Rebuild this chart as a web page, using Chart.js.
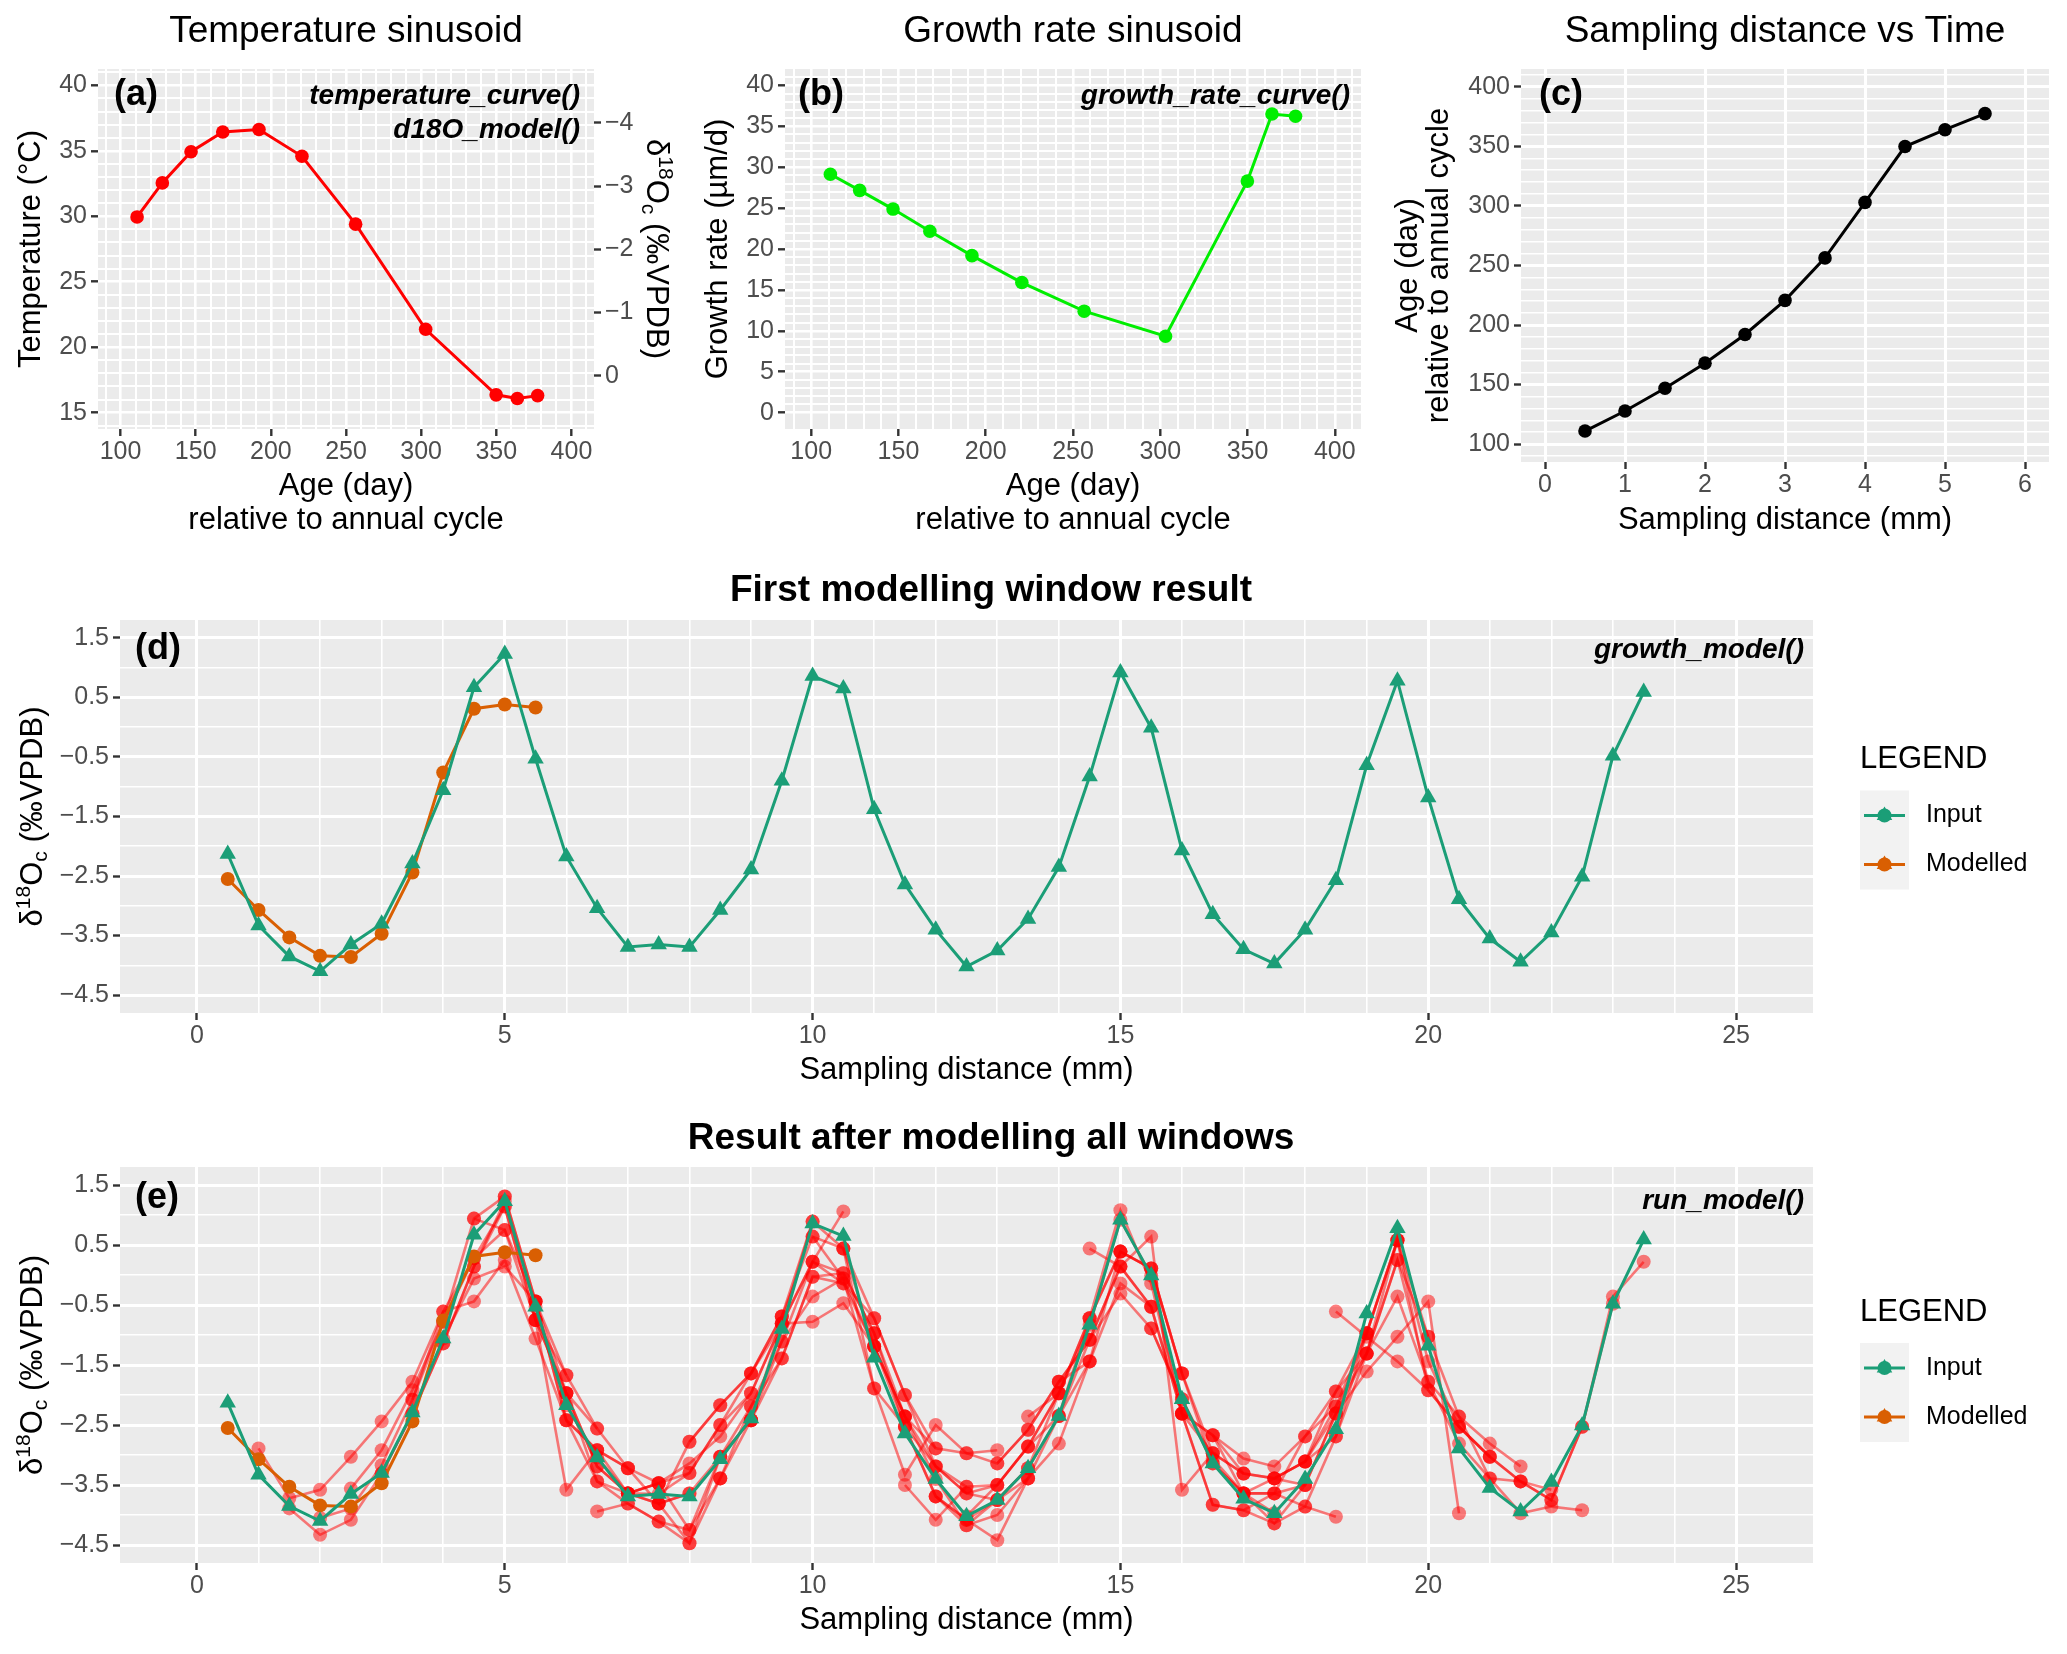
<!DOCTYPE html>
<html>
<head>
<meta charset="utf-8">
<title>Growth model panels</title>
<script src="https://cdn.jsdelivr.net/npm/chart.js@4.4.1/dist/chart.umd.min.js"></script>
<style>
  html, body { margin: 0; padding: 0; background: #ffffff; }
  #page { position: relative; width: 2067px; height: 1654px; overflow: hidden; background: #ffffff; }
  #page canvas { position: absolute; left: 0; top: 0; }
</style>
</head>
<body>
<div id="page">
  <canvas id="chartA" width="2067" height="1654"></canvas>
  <canvas id="chartB" width="2067" height="1654"></canvas>
  <canvas id="chartC" width="2067" height="1654"></canvas>
  <canvas id="chartD" width="2067" height="1654"></canvas>
  <canvas id="chartE" width="2067" height="1654"></canvas>
</div>
<script>
// ---- data ----
// panels (a)-(c): one point per sample of the first window
const sampleDistance = [0.5, 1.0, 1.5, 2.0, 2.5, 3.0, 3.5, 4.0, 4.5, 5.0, 5.5];
const ageDays = [111.0, 127.8, 146.9, 168.0, 192.1, 220.7, 256.4, 303.0, 349.9, 364.0, 377.5];
const temperatureC = [29.95, 32.55, 34.93, 36.44, 36.63, 34.58, 29.40, 21.37, 16.36, 16.08, 16.30];
const growthRate = [29.13, 27.16, 24.88, 22.17, 19.19, 15.90, 12.40, 9.33, 28.30, 36.50, 36.23];

// panels (d)-(e): input record and modelled result
const inputDistance = [0.5, 1.0, 1.5, 2.0, 2.5, 3.0, 3.5, 4.0, 4.5, 5.0,
  5.5, 6.0, 6.5, 7.0, 7.5, 8.0, 8.5, 9.0, 9.5, 10.0,
  10.5, 11.0, 11.5, 12.0, 12.5, 13.0, 13.5, 14.0, 14.5, 15.0,
  15.5, 16.0, 16.5, 17.0, 17.5, 18.0, 18.5, 19.0, 19.5, 20.0,
  20.5, 21.0, 21.5, 22.0, 22.5, 23.0, 23.5];
const inputD18O = [-2.13, -3.33, -3.85, -4.10, -3.65, -3.30, -2.29, -1.06, 0.67, 1.23,
  -0.53, -2.17, -3.04, -3.69, -3.65, -3.69, -3.07, -2.39, -0.90, 0.86,
  0.65, -1.38, -2.64, -3.40, -4.02, -3.75, -3.22, -2.35, -0.83, 0.92,
  -0.01, -2.07, -3.14, -3.73, -3.97, -3.40, -2.57, -0.64, 0.78, -1.18,
  -2.89, -3.55, -3.94, -3.45, -2.51, -0.48, 0.59];
const modelledD18O = [-2.55, -3.07, -3.53, -3.84, -3.86, -3.47, -2.44, -0.76, 0.31, 0.38, 0.33];

// panel (e): every later modelling window (11 samples each, starting at windowStarts)
const windowStarts = [1.0, 1.5, 2.0, 2.5, 3.0, 3.5, 4.0, 4.5, 5.0, 5.5, 6.0, 6.5,
  7.0, 7.5, 8.0, 8.5, 9.0, 9.5, 10.0, 10.5, 11.0, 11.5, 12.0, 12.5,
  13.0, 13.5, 14.0, 14.5, 15.0, 15.5, 16.0, 16.5, 17.0, 17.5, 18.0, 18.5];
const windowD18O = [
  [-2.89, -3.72, -3.58, -3.03, -2.44, -1.78, -0.61, 0.28, 0.75, -0.44, -1.67],
  [-3.89, -4.33, -4.08, -3.31, -2.31, -1.14, 0.14, 1.14, -0.75, -1.97, -2.56],
  [-4.05, -3.89, -3.17, -2.08, -0.78, 0.94, 1.31, -0.44, -2.42, -2.92, -3.22],
  [-3.56, -2.92, -1.92, -0.78, 0.28, 1.14, -0.75, -1.97, -3.19, -3.64, -3.47],
  [-3.31, -2.31, -1.14, 0.14, 1.23, -0.53, -2.17, -3.04, -3.64, -3.81, -3.64],
  [-2.08, -0.61, -0.44, 0.25, -1.06, -2.42, -3.44, -3.81, -4.11, -4.47, -3.39],
  [-1.06, -0.06, 0.14, -0.44, -1.97, -3.19, -3.64, -3.47, -4.25, -3.03, -2.42],
  [0.94, 0.75, -0.75, -1.67, -2.56, -3.22, -3.81, -2.78, -2.17, -1.64, -0.69],
  [1.31, -0.44, -2.42, -2.92, -3.64, -3.47, -3.30, -2.50, -1.97, -0.81, 0.89],
  [-0.75, -3.58, -2.92, -3.22, -3.47, -3.14, -2.69, -1.97, -0.81, 0.22, 1.06],
  [-1.97, -3.44, -3.64, -3.81, -3.64, -3.03, -2.19, -1.11, 0.22, 0.03, -0.97],
  [-3.94, -3.81, -4.11, -4.25, -3.39, -2.42, -1.39, -0.03, -0.14, -1.19, -2.36],
  [-3.64, -3.65, -3.30, -2.50, -1.64, -0.69, 0.64, 0.44, -0.72, -2.00, -2.89],
  [-3.81, -4.47, -3.03, -2.42, -1.11, -0.36, -0.06, -1.89, -2.53, -3.19, -3.53],
  [-2.78, -2.17, -1.64, -0.81, -0.78, -0.47, -1.19, -2.36, -2.89, -2.97, -2.92],
  [-3.39, -2.19, -1.39, -0.03, 0.03, -0.97, -2.53, -3.69, -4.08, -3.75, -3.39],
  [-2.42, -0.81, 0.22, -0.14, -0.72, -2.00, -3.19, -3.64, -3.50, -2.86, -1.97],
  [-0.69, 0.89, 0.44, -1.19, -2.36, -3.40, -4.17, -4.00, -3.39, -2.81, -1.44],
  [0.64, -0.06, -1.19, -2.53, -3.69, -4.08, -4.42, -3.39, -2.35, -0.72, 0.39],
  [0.44, -1.89, -3.33, -2.50, -2.97, -3.14, -2.58, -1.78, -1.08, 0.14, -0.53],
  [-0.97, -2.36, -3.19, -3.64, -3.75, -3.22, -1.97, -0.72, 0.39, 0.11, -1.64],
  [-3.50, -4.08, -3.53, -3.50, -2.86, -2.35, -1.44, -0.14, -0.53, -2.31, -2.97],
  [-3.69, -4.17, -3.75, -3.22, -2.35, -1.08, 0.14, 0.64, -3.58, -2.97, -3.31],
  [-4.02, -3.50, -2.86, -1.97, -0.72, 1.08, -0.14, -2.31, -2.67, -3.64, -3.97],
  [-3.14, -2.58, -1.78, -1.44, 0.39, 0.11, -1.64, -3.14, -3.64, -3.64, -3.50],
  [-2.36, -1.97, -0.83, 0.92, -0.01, -2.31, -3.83, -3.92, -4.14, -3.86, -4.03],
  [-1.78, -1.08, -0.31, -0.89, -2.07, -3.06, -3.64, -3.39, -3.11, -2.31, -0.97],
  [0.44, 0.14, -0.53, -2.31, -2.67, -3.06, -3.19, -2.69, -1.94, -0.97, 0.58],
  [0.39, 0.11, -1.64, -2.97, -3.31, -3.39, -3.11, -2.19, -1.31, 0.25, -1.03],
  [-0.89, -2.07, -3.14, -3.64, -4.14, -3.50, -2.31, -1.61, -1.03, -0.44, -3.97],
  [-2.31, -3.83, -3.92, -3.64, -3.86, -2.69, -1.31, 0.58, -1.44, -2.53, -3.03],
  [-2.67, -3.31, -3.39, -3.11, -1.94, -1.31, -0.36, -1.78, -2.36, -2.81, -3.19],
  [-3.64, -3.64, -2.69, -2.19, -0.97, 0.58, -1.92, -2.53, -3.03, -3.44, -3.58],
  [-3.39, -3.50, -2.31, -1.31, 0.25, -1.78, -2.81, -3.39, -3.97, -3.86, -3.92],
  [-3.11, -2.69, -0.97, 0.58, -1.03, -2.36, -3.39, -3.44, -3.75, -2.53, -0.48],
  [-0.61, -1.03, -1.44, -1.92, -2.53, -3.03, -3.44, -3.75, -2.53, -0.36, 0.22]
];

// ---- look ----
const FONT = '"Liberation Sans", Arimo, Arial, sans-serif';
const PAGE_W = 2067;
const PAGE_H = 1654;
const PANEL_BG = '#EBEBEB';
const TICK_LABEL = '#4D4D4D';
const TICK_MARK = '#333333';
const RED = '#FF0000';
const GREEN = '#00EE00';
const INPUT_COLOR = '#1B9E77';
const MODEL_COLOR = '#D95F02';
const WINDOW_COLOR = 'rgba(255, 0, 0, 0.5)';

Chart.defaults.font.family = FONT;

function xy(xs, ys) {
  return xs.map((x, i) => ({ x: x, y: ys[i] }));
}

function minusSign(str) {
  return String(str).replace('-', '\u2212');
}

function everyStep(v, step) {
  const r = Math.abs(v / step - Math.round(v / step));
  return r < 1e-6;
}

// grid breaks on multiples of the step (Chart.js would start them at min otherwise)
function breaks(min, max, step, keep) {
  const out = [];
  const first = Math.ceil(min / step - 1e-9);
  const last = Math.floor(max / step + 1e-9);
  for (let k = first; k <= last; k++) {
    const v = Math.round(k * step * 1000) / 1000;
    if (!keep || keep(v)) out.push({ value: v });
  }
  return out;
}

// ggplot-like linear axis: dense white grid, tick marks and labels only on majors
function ggAxis(o) {
  const wide = o.majorWidth || 3;
  const thin = o.minorWidth || 1.6;
  return {
    type: 'linear',
    position: o.position,
    min: o.min,
    max: o.max,
    reverse: !!o.reverse,
    border: { display: false },
    grid: {
      drawOnChartArea: o.drawGrid !== false,
      color: '#FFFFFF',
      lineWidth: c => (c.tick && o.major(c.tick.value)) ? wide : thin,
      tickColor: c => (c.tick && o.major(c.tick.value)) ? TICK_MARK : 'rgba(0,0,0,0)',
      tickLength: 7,
      tickWidth: 2.4
    },
    ticks: {
      stepSize: o.step,
      includeBounds: false,
      autoSkip: false,
      minRotation: 0,
      maxRotation: 0,
      padding: 4,
      color: TICK_LABEL,
      font: { family: FONT, size: 25, lineHeight: 1 },
      callback: v => o.major(v) ? o.label(v) : ''
    },
    afterBuildTicks: axis => {
      axis.ticks = breaks(o.min, o.max, o.step, o.keep);
    },
    afterFit: axis => {
      if (axis.isHorizontal()) axis.height = o.size;
      else axis.width = o.size;
    }
  };
}

function drawText(ctx, str, x, y, o) {
  ctx.save();
  ctx.translate(x, y);
  if (o.rot) ctx.rotate(o.rot);
  ctx.font = (o.style || 'normal') + ' ' + (o.weight || 'normal') + ' ' + o.size + 'px ' + FONT;
  ctx.fillStyle = o.color || '#000000';
  ctx.textAlign = o.align || 'center';
  ctx.textBaseline = 'middle';
  ctx.fillText(str, 0, 0);
  ctx.restore();
}

// δ18Oc (‰VPDB) with the raised 18 and lowered c
function drawDeltaTitle(ctx, x, y, rot) {
  const parts = [['\u03B4', 0], ['18', 1], ['O', 0], ['c', -1], [' (\u2030VPDB)', 0]];
  const big = 31;
  const small = 21;
  ctx.save();
  ctx.translate(x, y);
  ctx.rotate(rot);
  ctx.fillStyle = '#000000';
  ctx.textAlign = 'left';
  ctx.textBaseline = 'middle';
  let total = 0;
  const widths = parts.map(p => {
    ctx.font = (p[1] ? small : big) + 'px ' + FONT;
    const w = ctx.measureText(p[0]).width;
    total += w;
    return w;
  });
  let cx = -total / 2;
  parts.forEach((p, i) => {
    ctx.font = (p[1] ? small : big) + 'px ' + FONT;
    const dy = p[1] === 1 ? -9 : (p[1] === -1 ? 8 : 0);
    ctx.fillText(p[0], cx, dy);
    cx += widths[i];
  });
  ctx.restore();
}

function drawKeyPoint(ctx, x, y, color) {
  ctx.fillStyle = color;
  ctx.beginPath();
  ctx.arc(x, y, 7, 0, Math.PI * 2);
  ctx.fill();
  ctx.beginPath();
  const r = 9;
  ctx.moveTo(x, y - r);
  ctx.lineTo(x + Math.sin(2 * Math.PI / 3) * r, y - Math.cos(2 * Math.PI / 3) * r);
  ctx.lineTo(x + Math.sin(4 * Math.PI / 3) * r, y - Math.cos(4 * Math.PI / 3) * r);
  ctx.closePath();
  ctx.fill();
}

function drawLegend(ctx, cy) {
  drawText(ctx, 'LEGEND', 1860, cy - 57, { size: 31, align: 'left' });
  ctx.save();
  ctx.fillStyle = '#F2F2F2';
  ctx.fillRect(1860, cy - 26, 49, 99);
  const rows = [[INPUT_COLOR, 'Input', cy - 1], [MODEL_COLOR, 'Modelled', cy + 48]];
  rows.forEach(row => {
    ctx.strokeStyle = row[0];
    ctx.lineWidth = 3;
    ctx.beginPath();
    ctx.moveTo(1864, row[2]);
    ctx.lineTo(1905, row[2]);
    ctx.stroke();
    drawKeyPoint(ctx, 1884.5, row[2], row[0]);
    drawText(ctx, row[1], 1926, row[2], { size: 25, align: 'left' });
  });
  ctx.restore();
}

// grey panel behind the grid, free text on top
function decor(drawExtras) {
  return {
    id: 'decor',
    beforeDraw(chart) {
      const a = chart.chartArea;
      const ctx = chart.ctx;
      ctx.save();
      ctx.fillStyle = PANEL_BG;
      ctx.fillRect(a.left, a.top, a.right - a.left, a.bottom - a.top);
      ctx.restore();
    },
    afterDraw(chart) {
      drawExtras(chart.ctx, chart.chartArea);
    }
  };
}

// place the plotting panel at an exact page rectangle
function panelPadding(area, leftW, bottomH, rightW) {
  return {
    left: area.left - leftW,
    top: area.top,
    right: PAGE_W - area.right - (rightW || 0),
    bottom: PAGE_H - area.bottom - bottomH
  };
}

function lineSet(label, data, color, radius, style, width) {
  return {
    label: label,
    data: data,
    borderColor: color,
    backgroundColor: color,
    pointBackgroundColor: color,
    pointBorderWidth: 0,
    pointRadius: radius,
    pointStyle: style || 'circle',
    borderWidth: width || 3,
    tension: 0,
    fill: false
  };
}

function baseOptions(padding, scales) {
  return {
    responsive: false,
    animation: false,
    devicePixelRatio: 1,
    events: [],
    layout: { padding: padding },
    plugins: { legend: { display: false }, tooltip: { enabled: false } },
    scales: scales
  };
}

const fifty = v => everyStep(v, 50);
const five = v => everyStep(v, 5);
const oddHalf = v => Math.abs(Math.round(v * 2)) % 2 === 1;

// ---- (a) temperature sinusoid ----
const areaA = { left: 98, top: 69, right: 594, bottom: 429 };
new Chart(document.getElementById('chartA'), {
  type: 'line',
  data: { datasets: [lineSet('Temperature', xy(ageDays, temperatureC), RED, 6.8)] },
  options: baseOptions(panelPadding(areaA, 60, 40, 60), {
    x: ggAxis({ position: 'bottom', min: 85, max: 415, step: 10, major: fifty,
      label: v => String(Math.round(v)), size: 40, majorWidth: 2.6, minorWidth: 2 }),
    y: ggAxis({ position: 'left', min: 13.75, max: 41.25, step: 1, major: five,
      label: v => String(Math.round(v)), size: 60, majorWidth: 2.6, minorWidth: 2 }),
    y2: ggAxis({ position: 'right', min: -4.85, max: 0.84, reverse: true, step: 1, drawGrid: false,
      major: () => true, label: v => minusSign(Math.round(v)), size: 60 })
  }),
  plugins: [decor((ctx, a) => {
    const cx = (a.left + a.right) / 2;
    const cy = (a.top + a.bottom) / 2;
    drawText(ctx, 'Temperature sinusoid', cx, 32, { size: 37 });
    drawText(ctx, 'Temperature (\u00B0C)', 31, cy, { size: 31, rot: -Math.PI / 2 });
    drawText(ctx, 'Age (day)', cx, 486, { size: 31 });
    drawText(ctx, 'relative to annual cycle', cx, 520, { size: 31 });
    drawDeltaTitle(ctx, 656, cy, Math.PI / 2);
    drawText(ctx, '(a)', a.left + 16, 95, { size: 36, weight: 'bold', align: 'left' });
    drawText(ctx, 'temperature_curve()', a.right - 14, 96, { size: 28, weight: 'bold', style: 'italic', align: 'right' });
    drawText(ctx, 'd18O_model()', a.right - 14, 130, { size: 28, weight: 'bold', style: 'italic', align: 'right' });
  })]
});

// ---- (b) growth rate sinusoid ----
const areaB = { left: 785, top: 69, right: 1361, bottom: 429 };
new Chart(document.getElementById('chartB'), {
  type: 'line',
  data: { datasets: [lineSet('Growth rate', xy(ageDays, growthRate), GREEN, 6.8)] },
  options: baseOptions(panelPadding(areaB, 60, 40), {
    x: ggAxis({ position: 'bottom', min: 85, max: 415, step: 10, major: fifty,
      label: v => String(Math.round(v)), size: 40, majorWidth: 2.6, minorWidth: 2 }),
    y: ggAxis({ position: 'left', min: -2, max: 42, step: 1, major: five, keep: v => v >= 0 && v <= 41,
      label: v => String(Math.round(v)), size: 60, majorWidth: 2.6, minorWidth: 2 })
  }),
  plugins: [decor((ctx, a) => {
    const cx = (a.left + a.right) / 2;
    const cy = (a.top + a.bottom) / 2;
    drawText(ctx, 'Growth rate sinusoid', cx, 32, { size: 37 });
    drawText(ctx, 'Growth rate (\u00B5m/d)', 718, cy, { size: 31, rot: -Math.PI / 2 });
    drawText(ctx, 'Age (day)', cx, 486, { size: 31 });
    drawText(ctx, 'relative to annual cycle', cx, 520, { size: 31 });
    drawText(ctx, '(b)', a.left + 13, 95, { size: 36, weight: 'bold', align: 'left' });
    drawText(ctx, 'growth_rate_curve()', a.right - 11, 96, { size: 28, weight: 'bold', style: 'italic', align: 'right' });
  })]
});

// ---- (c) sampling distance vs time ----
const areaC = { left: 1521, top: 69, right: 2049, bottom: 462 };
new Chart(document.getElementById('chartC'), {
  type: 'line',
  data: { datasets: [lineSet('Age', xy(sampleDistance, ageDays), '#000000', 6.8)] },
  options: baseOptions(panelPadding(areaC, 60, 40), {
    x: ggAxis({ position: 'bottom', min: -0.3, max: 6.3, step: 1, major: () => true,
      label: v => String(Math.round(v)), size: 40 }),
    y: ggAxis({ position: 'left', min: 85, max: 415, step: 10, major: fifty,
      label: v => String(Math.round(v)), size: 60 })
  }),
  plugins: [decor((ctx, a) => {
    const cx = (a.left + a.right) / 2;
    const cy = (a.top + a.bottom) / 2;
    drawText(ctx, 'Sampling distance vs Time', cx, 32, { size: 37 });
    drawText(ctx, 'Age (day)', 1408, cy, { size: 31, rot: -Math.PI / 2 });
    drawText(ctx, 'relative to annual cycle', 1439, cy, { size: 31, rot: -Math.PI / 2 });
    drawText(ctx, 'Sampling distance (mm)', cx, 520, { size: 31 });
    drawText(ctx, '(c)', a.left + 18, 95, { size: 36, weight: 'bold', align: 'left' });
  })]
});

// ---- (d) and (e) share their axes ----
function distanceAxis() {
  return ggAxis({ position: 'bottom', min: -1.25, max: 26.25, step: 1, major: five,
    keep: v => v >= 0 && v <= 25, label: v => String(Math.round(v)), size: 40 });
}
function d18OAxis() {
  return ggAxis({ position: 'left', min: -4.8, max: 1.8, step: 0.5, major: oddHalf,
    label: v => minusSign(v.toFixed(1)), size: 60 });
}

const areaD = { left: 120, top: 620, right: 1813, bottom: 1013 };
new Chart(document.getElementById('chartD'), {
  type: 'line',
  data: {
    datasets: [
      lineSet('Input', xy(inputDistance, inputD18O), INPUT_COLOR, 9.5, 'triangle'),
      lineSet('Modelled', xy(sampleDistance, modelledD18O), MODEL_COLOR, 7)
    ]
  },
  options: baseOptions(panelPadding(areaD, 60, 40), { x: distanceAxis(), y: d18OAxis() }),
  plugins: [decor((ctx, a) => {
    const cx = (a.left + a.right) / 2;
    const cy = (a.top + a.bottom) / 2;
    drawText(ctx, 'First modelling window result', 991, 591, { size: 37, weight: 'bold' });
    drawDeltaTitle(ctx, 33.5, cy, -Math.PI / 2);
    drawText(ctx, 'Sampling distance (mm)', cx, 1070, { size: 31 });
    drawText(ctx, '(d)', a.left + 15, a.top + 29, { size: 36, weight: 'bold', align: 'left' });
    drawText(ctx, 'growth_model()', a.right - 9, a.top + 30, { size: 28, weight: 'bold', style: 'italic', align: 'right' });
    drawLegend(ctx, cy);
  })]
});

// ---- (e) all windows ----
const windowSets = windowStarts.map((start, k) => {
  const first = inputDistance.indexOf(start);
  const xs = inputDistance.slice(first, first + windowD18O[k].length);
  return lineSet('Window ' + start, xy(xs, windowD18O[k]), WINDOW_COLOR, 7, 'circle', 2.6);
});

const areaE = { left: 120, top: 1167, right: 1813, bottom: 1563 };
new Chart(document.getElementById('chartE'), {
  type: 'line',
  data: {
    datasets: [
      lineSet('Input', xy(inputDistance, inputD18O), INPUT_COLOR, 9.5, 'triangle'),
      lineSet('Modelled', xy(sampleDistance, modelledD18O), MODEL_COLOR, 7)
    ].concat(windowSets)
  },
  options: baseOptions(panelPadding(areaE, 60, 40), { x: distanceAxis(), y: d18OAxis() }),
  plugins: [decor((ctx, a) => {
    const cx = (a.left + a.right) / 2;
    const cy = (a.top + a.bottom) / 2;
    drawText(ctx, 'Result after modelling all windows', 991, 1139, { size: 37, weight: 'bold' });
    drawDeltaTitle(ctx, 33.5, cy, -Math.PI / 2);
    drawText(ctx, 'Sampling distance (mm)', cx, 1620, { size: 31 });
    drawText(ctx, '(e)', a.left + 15, a.top + 31, { size: 36, weight: 'bold', align: 'left' });
    drawText(ctx, 'run_model()', a.right - 9, a.top + 34, { size: 28, weight: 'bold', style: 'italic', align: 'right' });
    drawLegend(ctx, cy + 4);
  })]
});
</script>
</body>
</html>
